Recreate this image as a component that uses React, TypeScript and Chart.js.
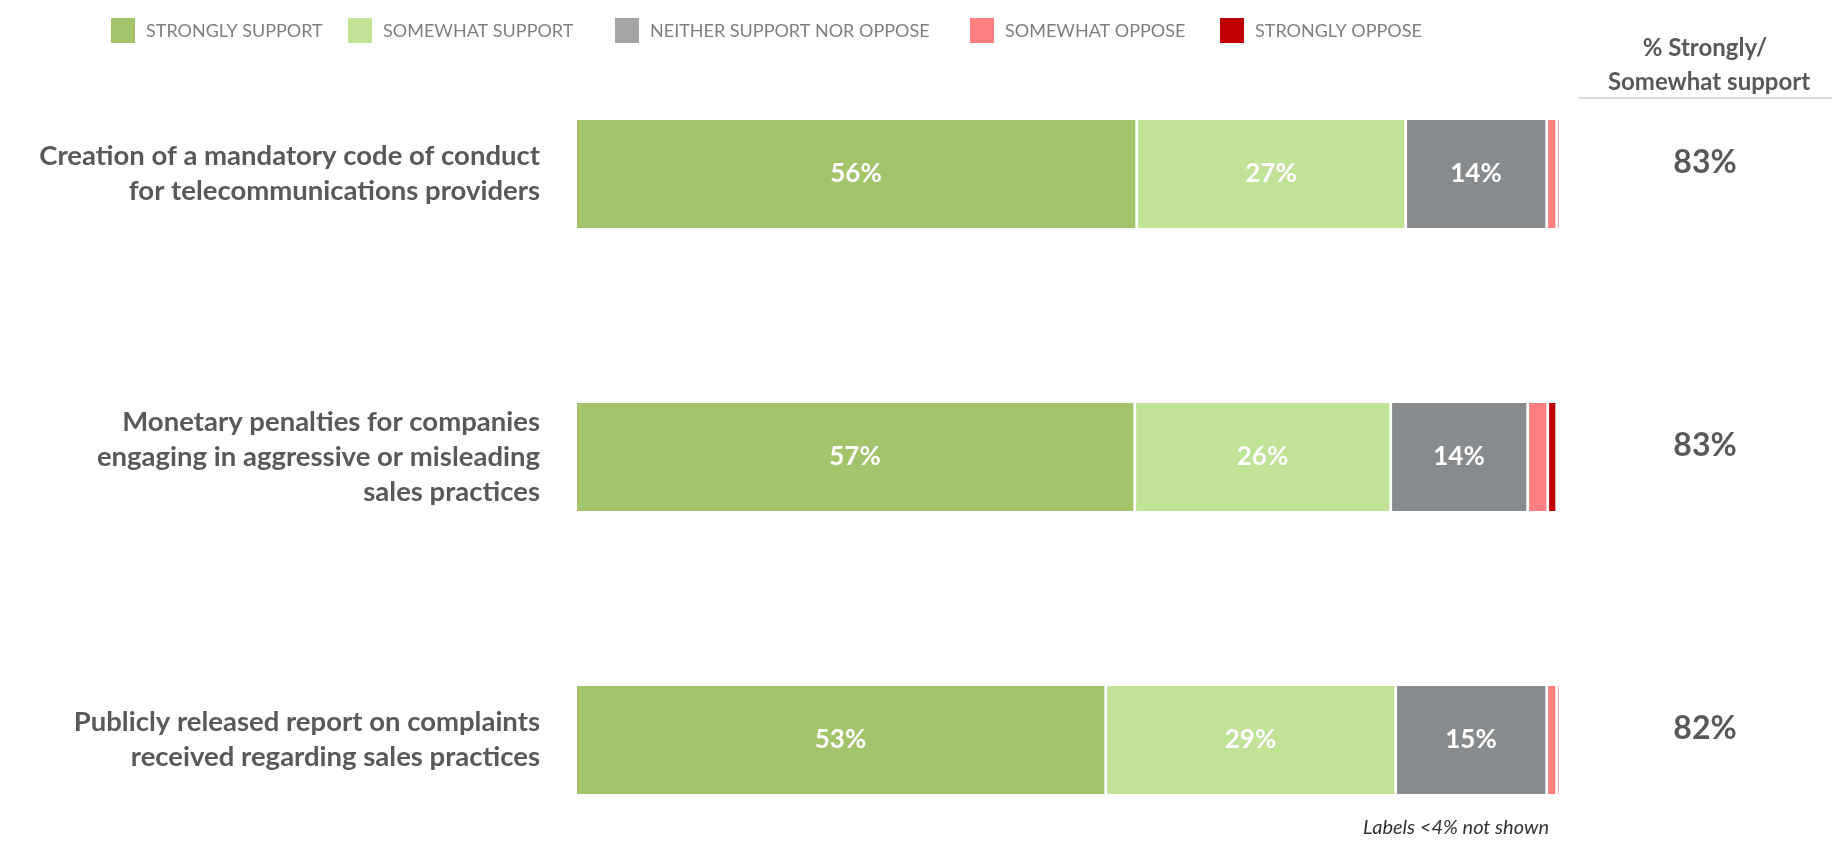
import React, { useEffect, useRef } from "react";
import { Chart, registerables } from "chart.js";

Chart.register(...registerables);

// ---------- data ----------
const categories: string[][] = [
  ["Creation of a mandatory code of conduct", "for telecommunications providers"],
  ["Monetary penalties for companies", "engaging in aggressive or misleading", "sales practices"],
  ["Publicly released report on complaints", "received regarding sales practices"],
];
const seriesNames = [
  "STRONGLY SUPPORT",
  "SOMEWHAT SUPPORT",
  "NEITHER SUPPORT NOR OPPOSE",
  "SOMEWHAT OPPOSE",
  "STRONGLY OPPOSE",
];
// bar lengths (% of respondents)
const stronglySupport = [56.1, 55.9, 53.0];
const somewhatSupport = [26.9, 25.6, 29.0];
const neitherSupportNorOppose = [14.1, 13.7, 15.1];
const somewhatOppose = [1.0, 2.0, 1.0];
const stronglyOppose = [0, 0.9, 0];
// printed segment labels (rounded % shown in the picture; null = not shown)
const stronglySupportLabels = [56, 57, 53];
const somewhatSupportLabels = [27, 26, 29];
const neitherLabels = [14, 14, 15];
const somewhatOpposeLabels = [null, null, null];
const stronglyOpposeLabels = [null, null, null];
const netSupport = [83, 83, 82];
const netHeader = ["% Strongly/", "Somewhat support"];
const footnote = "Labels <4% not shown";

// ---------- styles ----------
const barColors = ["#A2C46B", "#C0E398", "#888B8D", "#FF7F7F", "#C00000"];
const legendColors = ["#A2C46B", "#C0E398", "#A5A5A5", "#FF7F7F", "#C00000"];
const legendX = [111, 348, 615, 970, 1220];
const FONT = "Lato";

const segmentLabels = [
  stronglySupportLabels,
  somewhatSupportLabels,
  neitherLabels,
  somewhatOpposeLabels,
  stronglyOpposeLabels,
];

const overlayPlugin = {
  id: "overlay",
  afterDatasetsDraw(chart: any) {
    const ctx: CanvasRenderingContext2D = chart.ctx;
    const area = chart.chartArea;
    const yScale = chart.scales.y;
    ctx.save();
    // segment labels
    ctx.textAlign = "center";
    ctx.textBaseline = "middle";
    ctx.fillStyle = "#FFFFFF";
    ctx.font = `bold 26px ${FONT}`;
    chart.data.datasets.forEach((_ds: any, di: number) => {
      const meta = chart.getDatasetMeta(di);
      meta.data.forEach((el: any, i: number) => {
        const lab = segmentLabels[di][i];
        if (lab === null || lab === undefined) return;
        const p = el.getProps(["x", "y", "base"], true);
        ctx.fillText(lab + "%", (p.x + p.base) / 2 - 1.5, p.y);
      });
    });

    // net support column
    const netX = area.right + 128;
    ctx.fillStyle = "#595959";
    ctx.font = `bold 32px ${FONT}`;
    netSupport.forEach((v, i) => {
      ctx.fillText(v + "%", netX, yScale.getPixelForValue(i) - 11);
    });

    // header
    ctx.font = `bold 24px ${FONT}`;
    ctx.fillText(netHeader[0], netX, 48);
    ctx.fillText(netHeader[1], netX + 4, 82);
    ctx.strokeStyle = "#D9D9D9";
    ctx.lineWidth = 2;
    ctx.beginPath();
    ctx.moveTo(area.right + 2, 98);
    ctx.lineTo(area.right + 255, 98);
    ctx.stroke();

    // legend
    ctx.textAlign = "left";
    ctx.font = `18px ${FONT}`;
    chart.data.datasets.forEach((ds: any, di: number) => {
      const x = legendX[di];
      ctx.fillStyle = legendColors[di];
      ctx.fillRect(x, 18, 24, 25);
      ctx.fillStyle = "#7F7F7F";
      ctx.fillText(ds.label, x + 35, 31);
    });

    // footnote
    ctx.textAlign = "right";
    ctx.fillStyle = "#333333";
    ctx.font = `italic 20px ${FONT}`;
    ctx.fillText(footnote, area.right - 28, yScale.getPixelForValue(categories.length - 1) + 88);
    ctx.restore();
  },
};

export default function App() {
  const ref = useRef<HTMLCanvasElement>(null);
  useEffect(() => {
    document.body.style.margin = "0";
    const seriesValues = [
      stronglySupport,
      somewhatSupport,
      neitherSupportNorOppose,
      somewhatOppose,
      stronglyOppose,
    ];
    const chart = new Chart(ref.current as HTMLCanvasElement, {
      type: "bar",
      data: {
        labels: categories as any,
        datasets: seriesValues.map((vals, i) => ({
          label: seriesNames[i],
          data: vals,
          backgroundColor: barColors[i],
          borderColor: "#FFFFFF",
          borderWidth: { top: 0, right: 3, bottom: 0, left: 0 },
          borderSkipped: false,
          barThickness: 108,
          clip: false as any,
        })),
      },
      options: {
        indexAxis: "y",
        responsive: false,
        animation: false,
        devicePixelRatio: 1,
        layout: { padding: { top: 174, bottom: 124, left: 0, right: 269 } },
        plugins: {
          legend: { display: false },
          tooltip: { enabled: false },
        },
        scales: {
          x: { stacked: true, display: false, min: 0, max: 100 },
          y: {
            stacked: true,
            offset: false,
            grid: { display: false, drawTicks: false },
            border: { display: false },
            ticks: {
              color: "#595959",
              autoSkip: false,
              padding: 37,
              font: { family: FONT, weight: "bold", size: 27.5, lineHeight: 1.28 },
            },
            afterFit: (s: any) => {
              s.width = 577;
            },
          },
        },
      },
      plugins: [overlayPlugin],
    });
    return () => chart.destroy();
  }, []);
  return (
    <canvas
      ref={ref}
      width={1846}
      height={864}
      style={{ display: "block", width: 1846, height: 864 }}
    />
  );
}
